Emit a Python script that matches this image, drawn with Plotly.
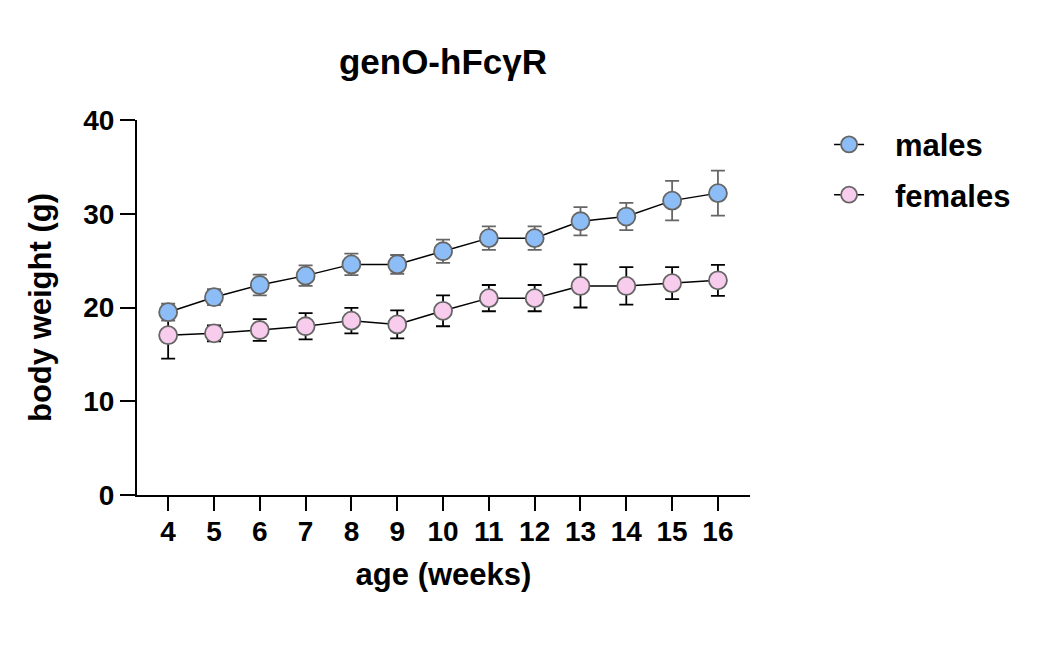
import plotly.graph_objects as go

weeks = [4, 5, 6, 7, 8, 9, 10, 11, 12, 13, 14, 15, 16]
males_mean = [19.5, 21.1, 22.4, 23.4, 24.6, 24.6, 26.0, 27.4, 27.4, 29.2, 29.7, 31.4, 32.2]
males_err = [0.9, 0.85, 1.1, 1.1, 1.15, 1.0, 1.25, 1.25, 1.25, 1.5, 1.45, 2.1, 2.4]
females_mean = [17.05, 17.25, 17.6, 18.0, 18.6, 18.2, 19.65, 21.0, 21.0, 22.3, 22.3, 22.6, 22.9]
females_err = [2.5, 0.85, 1.15, 1.4, 1.35, 1.5, 1.65, 1.4, 1.4, 2.3, 2.0, 1.7, 1.65]
y_ticks = [0, 10, 20, 30, 40]
series_names = ["males", "females"]

FONT = "Liberation Sans, Arial, sans-serif"
PAD = "\u00a0\u00a0\u00a0"

fig = go.Figure()
# females drawn first so the male markers sit on top (legend order kept via legendrank)
fig.add_trace(go.Scatter(
    x=weeks, y=females_mean, name=PAD + series_names[1], mode="lines+markers",
    line=dict(color="black", width=1.5),
    marker=dict(size=18, color="#F8CCEC", line=dict(color="#666666", width=1.8)),
    error_y=dict(type="data", array=females_err, color="black", thickness=1.8, width=7),
    legendgroup="f", legendrank=2,
))
fig.add_trace(go.Scatter(
    x=weeks, y=males_mean, name=PAD + series_names[0], mode="lines+markers",
    line=dict(color="black", width=1.5),
    marker=dict(size=18, color="#8DBDF7", line=dict(color="#666666", width=1.8)),
    error_y=dict(type="data", array=males_err, color="#666666", thickness=1.8, width=7),
    legendgroup="m", legendrank=1,
))

fig.update_layout(
    width=1061, height=654,
    margin=dict(l=137, r=311, t=120, b=159),
    paper_bgcolor="white", plot_bgcolor="white",
    font=dict(family=FONT, color="black", size=28, weight="bold"),
    title=dict(text="genO-hFcγR", x=0.4175, xanchor="center", y=0.905, yanchor="middle",
               font=dict(size=35, family=FONT, weight="bold")),
    legend=dict(x=1.129, y=1.006, xanchor="left", yanchor="top",
                font=dict(size=31, family=FONT, weight="bold"),
                tracegroupgap=7),
    showlegend=True,
)
fig.update_xaxes(
    range=[3.32, 16.7], tickvals=weeks, showline=True, linecolor="black", linewidth=2,
    ticks="outside", ticklen=14, tickwidth=2, tickcolor="black",
    showgrid=False, zeroline=False, ticklabelstandoff=-4,
    title=dict(text="age (weeks)", font=dict(size=31, family=FONT, weight="bold"), standoff=18),
    tickfont=dict(size=28, family=FONT, weight="bold"),
)
fig.update_yaxes(
    range=[0, 40], tickvals=y_ticks, showline=True, linecolor="black", linewidth=2,
    ticks="outside", ticklen=15, tickwidth=2, tickcolor="black",
    showgrid=False, zeroline=False,
    title=dict(text="body weight (g)", font=dict(size=31, family=FONT, weight="bold"), standoff=22),
    tickfont=dict(size=28, family=FONT, weight="bold"),
)

fig.write_html("out.html", post_script="document.body.style.margin='0';",
               config={"displayModeBar": False})
